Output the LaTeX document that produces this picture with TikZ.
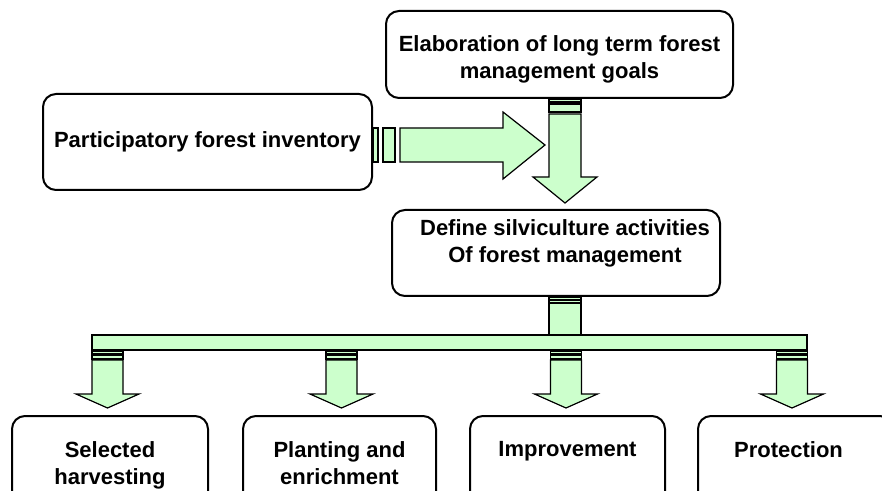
\documentclass[tikz,border=0pt]{standalone}
\usepackage{fontspec}
\setmainfont{Liberation Sans}
\usetikzlibrary{positioning}

\definecolor{paleGreen}{RGB}{204,255,204}

\tikzset{
  box/.style={draw, fill=white, line width=1pt, rounded corners=6.5pt, inner sep=0pt},
  boxtext/.style={font=\bfseries\fontsize{11}{13.5}\selectfont, align=center, inner sep=0pt},
  flow/.style={draw, fill=paleGreen, line width=0.6pt},
}

\begin{document}
\begin{tikzpicture}[x=0.5pt, y=-0.5pt]
    \clip (0,0) rectangle (882,491);
    % boxes
    \node[box, minimum width=173.5pt, minimum height=43.5pt] (goals) at (559.5,54.5) {};
    \node[boxtext, yshift=-2.5pt] (goals-txt) at (goals.center)
        {Elaboration of long term forest\\management goals};
    \node[box, boxtext, minimum width=164.5pt, minimum height=48pt] (inventory) at (207.5,142)
        {Participatory forest inventory};
    \node[box, minimum width=164pt, minimum height=43pt] (define) at (556,253) {};
    \node[boxtext, below=5pt of define.north, xshift=4.5pt] (define-txt)
        {Define silviculture activities\\Of forest management};
    \node[box, minimum width=98pt,   minimum height=60pt, anchor=north] (harvest)  at (110,415) {};
    \node[box, minimum width=96.5pt, minimum height=60pt, anchor=north] (planting) at (339.5,415) {};
    \node[box, minimum width=97.5pt, minimum height=60pt, anchor=north] (improve)  at (567.5,415) {};
    \node[box, minimum width=97.5pt, minimum height=60pt, anchor=north] (protect)  at (795.5,415) {};
    \node[boxtext, below=13pt of harvest.north]  (harvest-txt)  {Selected\\harvesting};
    \node[boxtext, below=13pt of planting.north] (planting-txt) {Planting and\\enrichment};
    \node[boxtext, below=13pt of improve.north]  (improve-txt)  {Improvement};
    \node[boxtext, below=13pt of protect.north, xshift=-3.5pt] (protect-txt) {Protection};

    % inventory -> goals stream
    \draw[flow] (373,128) rectangle (378,162);
    \draw[flow] (383,128) rectangle (395,162);
    \draw[flow] (400,128) -- (503,128) -- (503,112) -- (545,145) -- (503,179) -- (503,162) -- (400,162) -- cycle;

    % goals -> define
    \draw[flow] (549,99) rectangle (581,102);
    \draw[flow] (549,104) rectangle (581,112);
    \draw[flow] (549,114) -- (581,114) -- (581,177) -- (597,177) -- (565,203) -- (533,177) -- (549,177) -- cycle;

    % define -> bar
    \draw[flow] (549,297) rectangle (581,300);
    \draw[flow] (549,300) rectangle (581,303);
    \draw[flow] (549,303) rectangle (581,335);
    \draw[flow] (92,335) rectangle (807,350);

    % bar -> activities
    \foreach \cx in {107.5,341.5,566,792} {
        \draw[flow] ({\cx-15.5},351) rectangle ({\cx+15.5},354);
        \draw[flow] ({\cx-15.5},355) rectangle ({\cx+15.5},359);
        \draw[flow] ({\cx-15.5},360) -- ({\cx+15.5},360) -- ({\cx+15.5},394) -- ({\cx+31.5},394)
            -- (\cx,408) -- ({\cx-31.5},394) -- ({\cx-15.5},394) -- cycle;
    }
\end{tikzpicture}
\end{document}
